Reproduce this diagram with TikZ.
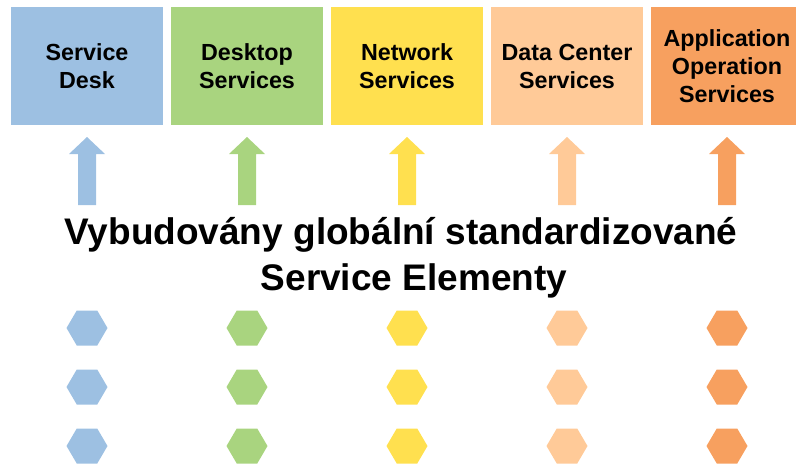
\documentclass[tikz,border=0pt]{standalone}
\usepackage{fontspec}
\setmainfont{Liberation Sans}
\definecolor{cblue}{HTML}{9DC0E2}
\definecolor{cgreen}{HTML}{A9D47F}
\definecolor{cyellow}{HTML}{FFE04F}
\definecolor{cpeach}{HTML}{FFCA98}
\definecolor{corange}{HTML}{F7A05F}
\begin{document}
\begin{tikzpicture}[x=1pt,y=-1pt,
  svcbox/.style={draw=none,minimum width=152pt,minimum height=118pt,inner sep=0pt,align=center,
    font=\bfseries\fontsize{23.3}{28}\selectfont},
  bigtext/.style={font=\bfseries\fontsize{37}{46}\selectfont,inner sep=0pt,anchor=base}]
\useasboundingbox (0,0) rectangle (796,464);
\clip (0,0) rectangle (796,464);
\foreach \c/\nm [count=\i from 0] in {cblue/sd,cgreen/ds,cyellow/ns,cpeach/dc,corange/ao}{
  \pgfmathsetmacro{\cx}{87+160*\i}
  % arrow
  \fill[\c] (\cx,137) -- (\cx+18,154) -- (\cx+9,154) -- (\cx+9,205) -- (\cx-9,205) -- (\cx-9,154) -- (\cx-18,154) -- cycle;
  % hexagons
  \foreach \hy in {328,387,446}{
    \fill[\c] (\cx-20.5,\hy) -- (\cx-10.25,\hy-17.5) -- (\cx+10.25,\hy-17.5) -- (\cx+20.5,\hy) -- (\cx+10.25,\hy+17.5) -- (\cx-10.25,\hy+17.5) -- cycle;
  }
}
\node[svcbox,fill=cblue] (sd) at (87,66) {Service\\Desk};
\node[svcbox,fill=cgreen] (ds) at (247,66) {Desktop\\Services};
\node[svcbox,fill=cyellow] (ns) at (407,66) {Network\\Services};
\node[svcbox,fill=cpeach] (dc) at (567,66) {Data Center\\Services};
\node[svcbox,fill=corange] (ao) at (727,66) {Application\\Operation\\Services};
\node[bigtext] (l1) at (401,244) {Vybudovány globální standardizované};
\node[bigtext] (l2) at (414,290) {Service Elementy};
\end{tikzpicture}
\end{document}
